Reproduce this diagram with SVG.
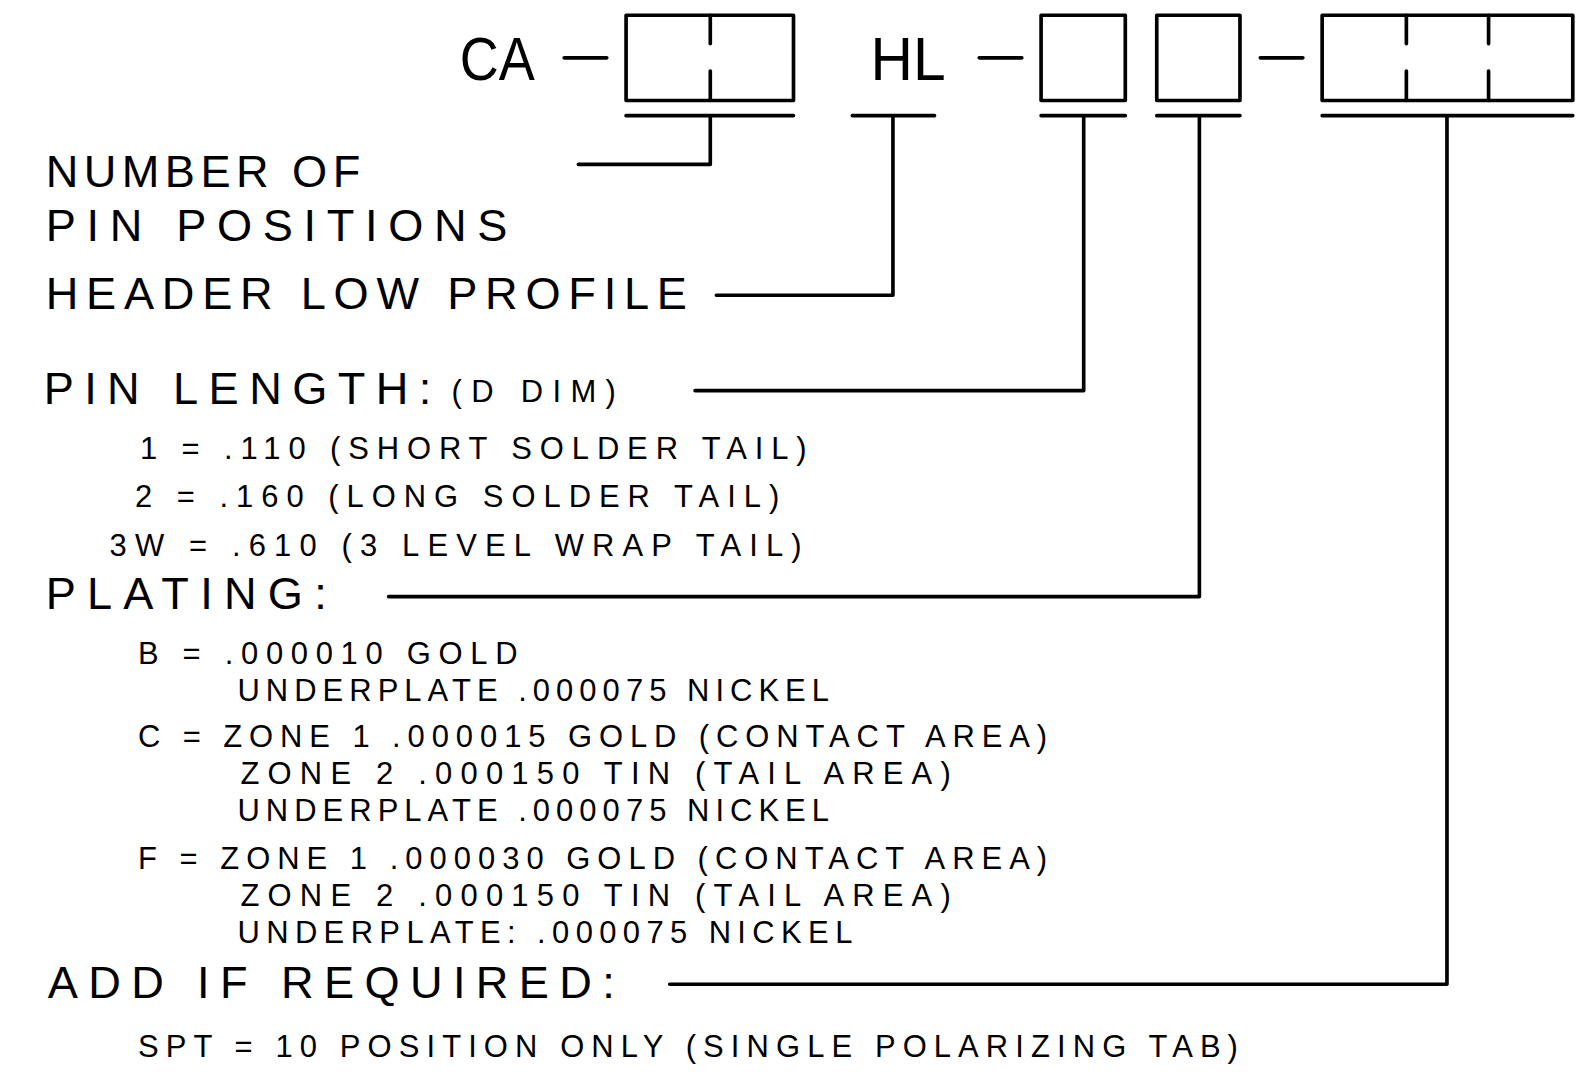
<svg xmlns="http://www.w3.org/2000/svg" width="1591" height="1078" viewBox="0 0 1591 1078">
<style>
.ln{fill:none;stroke:#000;stroke-width:3.6;stroke-linecap:round;stroke-linejoin:round}
text{font-family:"Liberation Sans","DejaVu Sans",sans-serif;fill:#000}
.xl{font-size:61px}
.lg{font-size:44.5px}
.sm{font-size:30.5px}
</style>
<rect width="1591" height="1078" fill="#fff"/>
<g transform="scale(1.0147)">
<g id="code">
<text class="xl" x="453" y="79" textLength="74" lengthAdjust="spacingAndGlyphs">CA</text>
<text class="xl" x="858" y="79" textLength="74" lengthAdjust="spacingAndGlyphs">HL</text>
<path class="ln" d="M556 57H598M965 57H1007M1242 57H1284"/>
</g>
<g id="box-positions">
<rect class="ln" x="617" y="15" width="165" height="84"/>
<path class="ln" d="M700 15V43M700 70V99"/>
</g>
<g id="box-length"><rect class="ln" x="1026" y="15" width="83" height="84"/></g>
<g id="box-plating"><rect class="ln" x="1140" y="15" width="82" height="84"/></g>
<g id="box-options">
<rect class="ln" x="1303" y="15" width="247" height="84"/>
<path class="ln" d="M1386 15V43M1386 70V99M1467 15V43M1467 70V99"/>
</g>
<g id="connectors">
<path class="ln" d="M617 114H782M700 114V162H570"/>
<path class="ln" d="M840 114H921M880 114V291H706"/>
<path class="ln" d="M1026 114H1109M1068 114V385H685"/>
<path class="ln" d="M1140 114H1222M1182 114V588H383"/>
<path class="ln" d="M1303 114H1550M1426 114V970H660"/>
</g>
<g id="label-positions">
<text class="lg" x="45" y="184" textLength="310" lengthAdjust="spacing">NUMBER OF</text>
<text class="lg" x="45" y="238" textLength="455" lengthAdjust="spacing">PIN POSITIONS</text>
</g>
<g id="label-header"><text class="lg" x="45" y="305" textLength="632" lengthAdjust="spacing">HEADER LOW PROFILE</text></g>
<g id="label-length">
<text class="lg" x="43" y="398" textLength="382" lengthAdjust="spacing">PIN LENGTH:</text>
<text class="sm" x="445" y="396" textLength="162" lengthAdjust="spacing">(D DIM)</text>
<text class="sm" x="138" y="452" textLength="657" lengthAdjust="spacing">1 = .110 (SHORT SOLDER TAIL)</text>
<text class="sm" x="133" y="500" textLength="635" lengthAdjust="spacing">2 = .160 (LONG SOLDER TAIL)</text>
<text class="sm" x="108" y="548" textLength="682" lengthAdjust="spacing">3W = .610 (3 LEVEL WRAP TAIL)</text>
</g>
<g id="label-plating">
<text class="lg" x="45" y="600" textLength="277" lengthAdjust="spacing">PLATING:</text>
<text class="sm" x="136" y="654" textLength="374" lengthAdjust="spacing">B = .000010 GOLD</text>
<text class="sm" x="234" y="691" textLength="583" lengthAdjust="spacing">UNDERPLATE .000075 NICKEL</text>
<text class="sm" x="136" y="736" textLength="896" lengthAdjust="spacing">C = ZONE 1 .000015 GOLD (CONTACT AREA)</text>
<text class="sm" x="237" y="773" textLength="700" lengthAdjust="spacing">ZONE 2 .000150 TIN (TAIL AREA)</text>
<text class="sm" x="234" y="809" textLength="583" lengthAdjust="spacing">UNDERPLATE .000075 NICKEL</text>
<text class="sm" x="136" y="856" textLength="896" lengthAdjust="spacing">F = ZONE 1 .000030 GOLD (CONTACT AREA)</text>
<text class="sm" x="237" y="893" textLength="700" lengthAdjust="spacing">ZONE 2 .000150 TIN (TAIL AREA)</text>
<text class="sm" x="234" y="929" textLength="606" lengthAdjust="spacing">UNDERPLATE: .000075 NICKEL</text>
</g>
<g id="label-options">
<text class="lg" x="47" y="984" textLength="559" lengthAdjust="spacing">ADD IF REQUIRED:</text>
<text class="sm" x="136" y="1042" textLength="1084" lengthAdjust="spacing">SPT = 10 POSITION ONLY (SINGLE POLARIZING TAB)</text>
</g>
</g>
</svg>
